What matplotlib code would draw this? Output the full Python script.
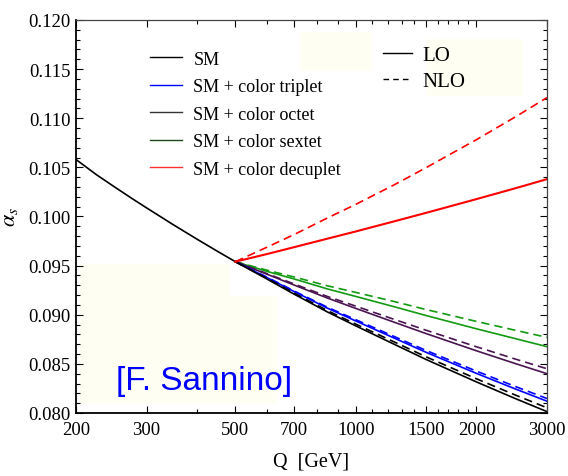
import matplotlib
matplotlib.use("Agg")
import matplotlib.pyplot as plt
from matplotlib.lines import Line2D
from matplotlib.patches import Rectangle
from matplotlib.ticker import FixedLocator, NullFormatter, FixedFormatter

plt.rcParams['font.family'] = ['Liberation Serif', 'DejaVu Serif']
plt.rcParams['mathtext.fontset'] = 'stix'

# Running coupling below the new-physics threshold (SM only)
q_low = [200, 225, 250, 275, 300, 350, 400, 450, 500]
sm_low = [0.1058, 0.10425, 0.10299, 0.10187, 0.10088, 0.09916, 0.09772, 0.09648, 0.0954]

# Above 500 GeV
q_high = [500, 600, 700, 850, 1000, 1250, 1500, 2000, 2500, 3000]
sm_lo = [0.0954, 0.09363, 0.09211, 0.09027, 0.08886, 0.08697, 0.08543, 0.08316, 0.08147, 0.08014]
sm_nlo = [0.0954, 0.09370, 0.09221, 0.09041, 0.08904, 0.08721, 0.08570, 0.08348, 0.08183, 0.08053]
trip_lo = [0.0954, 0.09378, 0.09237, 0.09066, 0.08936, 0.08760, 0.08616, 0.08403, 0.08245, 0.08120]
trip_nlo = [0.0954, 0.09382, 0.09243, 0.09075, 0.08949, 0.08776, 0.08635, 0.08426, 0.08270, 0.08147]
oct_lo = [0.0954, 0.09412, 0.09303, 0.09169, 0.09064, 0.08922, 0.08807, 0.08633, 0.08503, 0.08400]
oct_nlo = [0.0954, 0.09418, 0.09314, 0.09185, 0.09087, 0.08951, 0.08841, 0.08674, 0.08549, 0.08450]
sext_lo = [0.0954, 0.09441, 0.09365, 0.09262, 0.09186, 0.09080, 0.08991, 0.08857, 0.08757, 0.08675]
sext_nlo = [0.0954, 0.09453, 0.09385, 0.09294, 0.09227, 0.09133, 0.09052, 0.08932, 0.08842, 0.08770]
dec_lo = [0.0954, 0.09618, 0.09687, 0.09775, 0.09848, 0.09952, 0.10038, 0.10177, 0.10287, 0.10380]
dec_nlo = [0.0954, 0.09688, 0.09815, 0.09986, 0.10124, 0.10325, 0.10499, 0.10782, 0.11013, 0.11210]

x_major = [200, 300, 500, 700, 1000, 1500, 2000, 3000]
x_minor = [400, 600, 800, 900, 1100, 1200, 1300, 1400, 1600, 1700, 1800, 1900]
y_major = [0.080, 0.085, 0.090, 0.095, 0.100, 0.105, 0.110, 0.115, 0.120]

legend_labels = ['SM', 'SM + color triplet', 'SM + color octet',
                 'SM + color sextet', 'SM + color decuplet']

fig = plt.figure(figsize=(5.68, 4.77), dpi=100)
ax = fig.add_axes([0.1338, 0.1321, 0.8292, 0.8239])

# faint background blocks
for (x0, y0, w, h) in [(0.0085, 0.0229, 0.3185, 0.356), (0.327, 0.0229, 0.10, 0.275),
                       (0.4756, 0.870, 0.153, 0.0995), (0.745, 0.8066, 0.204, 0.145)]:
    ax.add_patch(Rectangle((x0, y0), w, h, transform=ax.transAxes,
                           facecolor='#fefef3', edgecolor='none', zorder=0))

lw = 1.2
dash = (0, (5, 3))
green = '#129a12'
purple = '#4a1450'
ax.plot(q_low, sm_low, color='black', lw=lw)
ax.plot(q_high, sext_nlo, color=green, lw=lw, ls=dash)
ax.plot(q_high, sext_lo, color=green, lw=lw)
ax.plot(q_high, oct_nlo, color=purple, lw=lw, ls=dash)
ax.plot(q_high, oct_lo, color=purple, lw=lw)
ax.plot(q_high, trip_nlo, color='#0000ff', lw=lw, ls=dash)
ax.plot(q_high, trip_lo, color='#0000ff', lw=lw)
ax.plot(q_high, sm_nlo, color='black', lw=lw, ls=dash)
ax.plot(q_high, sm_lo, color='black', lw=lw)
ax.plot(q_high, dec_nlo, color='#ff0000', lw=lw, ls=dash)
ax.plot(q_high, dec_lo, color='#ff0000', lw=1.5)

ax.set_xscale('log')
ax.set_xlim(200, 3000)
ax.set_ylim(0.080, 0.120)
ax.xaxis.set_major_locator(FixedLocator(x_major))
ax.xaxis.set_major_formatter(FixedFormatter([str(v) for v in x_major]))
ax.xaxis.set_minor_locator(FixedLocator(x_minor))
ax.xaxis.set_minor_formatter(NullFormatter())
ax.yaxis.set_major_locator(FixedLocator(y_major))
ax.yaxis.set_major_formatter(FixedFormatter(['%.3f' % v for v in y_major]))
ax.yaxis.set_minor_locator(FixedLocator([0.080 + 0.001 * i for i in range(41)]))

ax.tick_params(which='both', direction='in', top=True, right=True,
               labelsize=13.5, width=0.8)
ax.tick_params(which='major', length=5)
ax.tick_params(axis='x', which='major', pad=6)
ax.tick_params(axis='y', which='major', pad=4)
ax.tick_params(which='minor', length=3)
for s in ['left', 'bottom']:
    ax.spines[s].set_linewidth(1.3)
for s in ['top', 'right']:
    ax.spines[s].set_linewidth(0.9)
    ax.spines[s].set_color('#444444')

ax.set_xlabel('Q  [GeV]', fontsize=14.5)
ax.xaxis.set_label_coords(0.5, -0.098)
ax.set_ylabel(r'$\alpha_s$', fontsize=16)
ax.yaxis.set_label_coords(-0.119, 0.5)

handles = [Line2D([], [], color='black', lw=1),
           Line2D([], [], color='#0000ff', lw=1),
           Line2D([], [], color='#333333', lw=1),
           Line2D([], [], color='#1c4a1c', lw=1),
           Line2D([], [], color='#ff3030', lw=1)]
leg1 = ax.legend(handles, legend_labels, loc='upper left',
                 bbox_to_anchor=(0.157, 0.922), frameon=False, fontsize=13,
                 handlelength=1.8, handletextpad=0.6, labelspacing=0.58,
                 borderpad=0, borderaxespad=0)
ax.add_artist(leg1)

handles2 = [Line2D([], [], color='black', lw=1),
            Line2D([], [], color='black', lw=1, ls=(0, (4, 3)))]
ax.legend(handles2, ['LO', 'NLO'], loc='upper left',
          bbox_to_anchor=(0.651, 0.935), frameon=False, fontsize=15,
          handlelength=1.4, handletextpad=0.5, labelspacing=0.3,
          borderpad=0, borderaxespad=0)

ax.text(0.084, 0.062, '[F. Sannino]', transform=ax.transAxes,
        fontsize=24, color='#0000ff', family='Liberation Sans',
        ha='left', va='baseline')

fig.savefig('out.png', dpi=100)
